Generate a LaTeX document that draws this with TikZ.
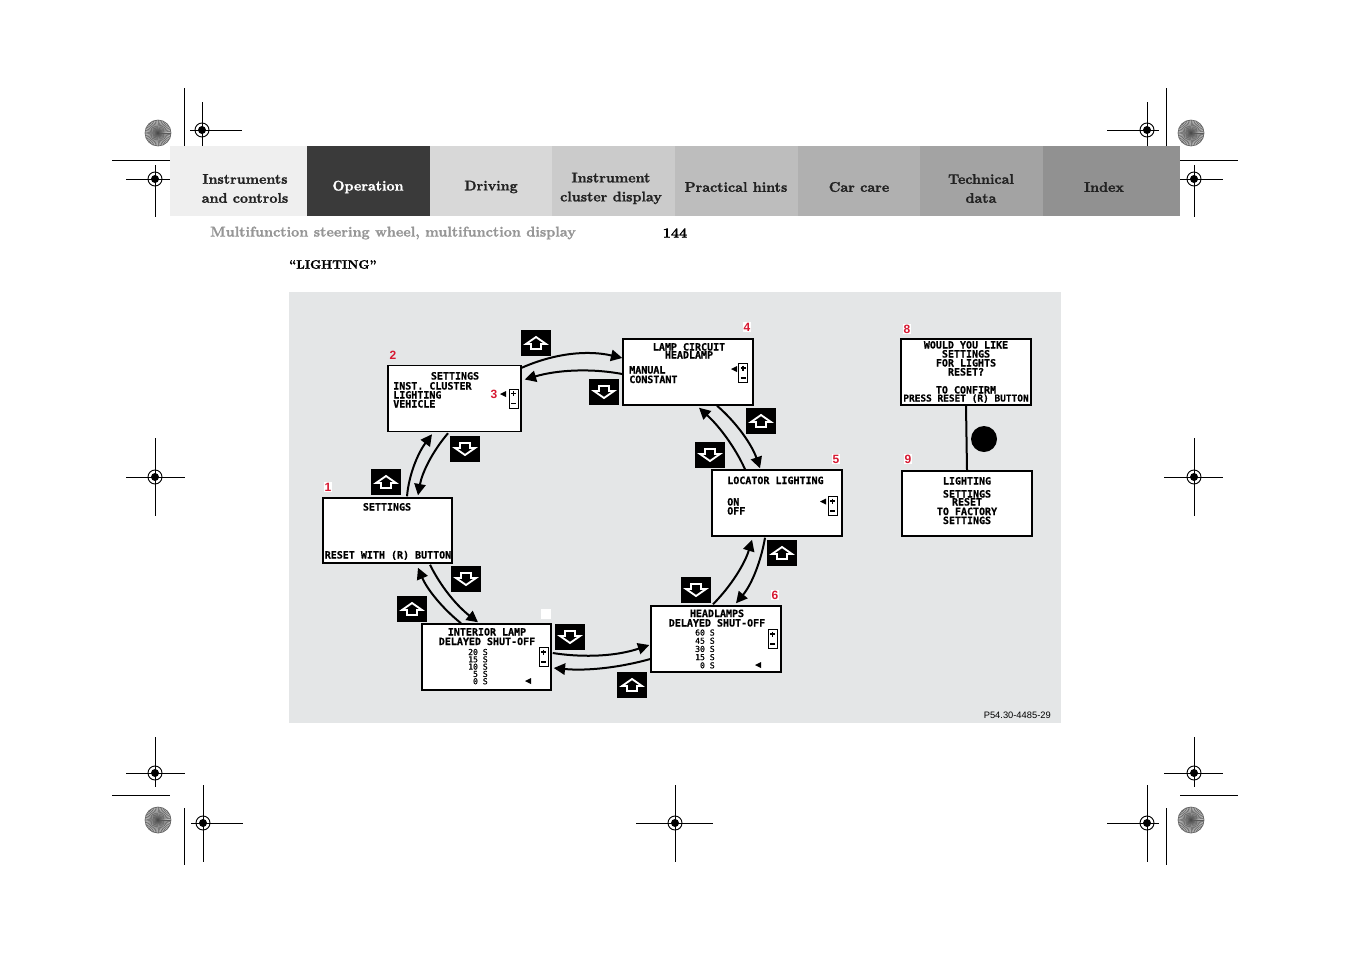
\documentclass[tikz,border=0pt]{standalone}
\usepackage{fontspec}
\usetikzlibrary{arrows.meta,calc}
\newfontfamily\lcdfont{DejaVu Sans Mono}[FakeBold=0.6]
\newfontfamily\numfont{Liberation Sans}
\newfontfamily\hdfont{lmroman10-bold.otf}[FakeBold=1.4]
\definecolor{panel}{RGB}{228,230,231}
\definecolor{numred}{RGB}{215,25,50}
\definecolor{tabA}{RGB}{239,239,239}
\definecolor{tabB}{RGB}{58,58,58}
\definecolor{tabC}{RGB}{216,216,216}
\definecolor{tabD}{RGB}{203,203,203}
\definecolor{tabE}{RGB}{189,189,189}
\definecolor{tabF}{RGB}{176,176,176}
\definecolor{tabG}{RGB}{163,163,163}
\definecolor{tabH}{RGB}{145,145,145}
\definecolor{tabtext}{RGB}{34,34,34}
\definecolor{subgray}{RGB}{150,150,150}
\newcommand\starburst[2]{%
  \fill[gray!55] (#1,#2) circle (13);
  \foreach \a in {0,8,...,352} \draw[black!65,line width=0.35pt] (#1,#2) -- ++(\a:13);
  \draw[black!60,line width=0.5pt] (#1,#2) circle (13);
  \fill[black!70] (#1,#2) circle (1.5);}
\newcommand\regmark[6]{%
  \draw[regline] (#1-#3,#2) -- (#1+#4,#2) (#1,#2-#5) -- (#1,#2+#6);
  \draw[line width=0.7pt] (#1,#2) circle (7);
  \fill (#1,#2) circle (4);}
\newcommand\pmbox[2]{%
  \draw[line width=0.6pt,fill=white] (#1-4.5,#2-9.5) rectangle (#1+4.5,#2+9.5);
  \draw[line width=0.9pt] (#1-2.5,#2-5) -- (#1+2.5,#2-5) (#1,#2-7.5) -- (#1,#2-2.5) (#1-2.5,#2+5) -- (#1+2.5,#2+5);}
\newcommand\ptr[2]{\fill (#1-3,#2) -- (#1+3,#2-3) -- (#1+3,#2+3) -- cycle;}
\begin{document}
\begin{tikzpicture}[x=0.75pt,y=-0.75pt,
  regline/.style={line width=0.75pt},
  screen/.style={draw=black,line width=1.1pt,fill=white,inner sep=0pt,minimum height=49.5pt},
  lcd/.style={font=\lcdfont\bfseries\fontsize{7.5}{7}\selectfont,inner sep=0pt},
  lcds/.style={font=\lcdfont\fontsize{6.1}{7}\selectfont,inner sep=0pt},
  num/.style={font=\numfont\bfseries\fontsize{9}{10}\selectfont,text=numred,inner sep=0.8pt},
  numw/.style={num,fill=white},
  iconbox/.style={fill=black,minimum width=22.5pt,minimum height=20pt,inner sep=0pt},
  flow/.style={line width=1.5pt,-{Triangle[length=8.5pt,width=8.5pt]}},
  tabtxt/.style={font=\hdfont\fontsize{10.5}{14.25}\selectfont,align=center,text=tabtext,inner sep=0pt},
  upar/.pic={\draw[white,line width=1.4pt,line join=miter] (0,-6) -- (-10,1) -- (-5,1) -- (-5,6) -- (5,6) -- (5,1) -- (10,1) -- cycle;},
  downar/.pic={\draw[white,line width=1.4pt,line join=miter] (0,6) -- (-10,-1) -- (-5,-1) -- (-5,-6) -- (5,-6) -- (5,-1) -- (10,-1) -- cycle;}
]
\useasboundingbox (0,0) rectangle (1351,954);
\fill[white] (0,0) rectangle (1351,954);

% ---- crop and registration marks
\starburst{158}{133}
\starburst{1191}{133}
\starburst{158}{820}
\starburst{1191}{820}
\regmark{202}{130}{12}{40}{28}{30}
\regmark{1147}{130}{40}{12}{28}{30}
\regmark{155}{179}{29}{30}{14}{38}
\regmark{1194}{179}{30}{29}{14}{38}
\regmark{155}{477}{29}{30}{39}{39}
\regmark{1194}{477}{30}{29}{39}{39}
\regmark{155}{773}{29}{30}{36}{14}
\regmark{1194}{773}{30}{29}{36}{14}
\regmark{203}{823}{12}{40}{38}{39}
\regmark{1147}{823}{40}{12}{38}{39}
\regmark{675}{823}{39}{38}{38}{39}
\draw[regline] (184,88) -- (184,146) (112,160) -- (170,160);
\draw[regline] (1166,88) -- (1166,146) (1180,160) -- (1238,160);
\draw[regline] (184,808) -- (184,865) (112,795) -- (170,795);
\draw[regline] (1166,808) -- (1166,865) (1180,795) -- (1238,795);

% ---- header tabs
\fill[tabA] (170,146) rectangle (307,216);
\fill[tabB] (307,146) rectangle (430,216);
\fill[tabC] (430,146) rectangle (552,216);
\fill[tabD] (552,146) rectangle (675,216);
\fill[tabE] (675,146) rectangle (798,216);
\fill[tabF] (798,146) rectangle (920,216);
\fill[tabG] (920,146) rectangle (1043,216);
\fill[tabH] (1043,146) rectangle (1180,216);
\node[tabtxt] (t1) at (245,188.5) {Instruments\\and controls};
\node[tabtxt,text=white] (t2) at (368,187) {Operation};
\node[tabtxt] (t3) at (491,187) {Driving};
\node[tabtxt] (t4) at (611,188.5) {Instrument\\cluster display};
\node[tabtxt] (t5) at (736,187) {Practical hints};
\node[tabtxt] (t6) at (859,187) {Car care};
\node[tabtxt] (t7) at (981,188.5) {Technical\\data};
\node[tabtxt] (t8) at (1104,187) {Index};

\node[font=\hdfont\fontsize{10.6}{12}\selectfont,text=subgray,anchor=west,inner sep=0pt] (sub) at (210,233) {Multifunction steering wheel, multifunction display};
\node[font=\hdfont\fontsize{10.6}{12}\selectfont,inner sep=0pt] (page) at (675,233) {144};
\node[font=\hdfont\fontsize{9.2}{12}\selectfont,anchor=west,inner sep=0pt] (ttl) at (289,264.5) {“LIGHTING”};

% ---- panel
\fill[panel] (289,292) rectangle (1061,723);
\node[font=\numfont\fontsize{7}{8}\selectfont,anchor=east,inner sep=0pt] (ref) at (1051,715) {P54.30-4485-29};

% ---- screens
\node[screen,minimum width=99.75pt] (s2) at (454.5,398.5) {};
\node[screen,minimum width=97.5pt] (s4) at (688,372) {};
\node[screen,minimum width=97.5pt] (s8) at (966,372) {};
\node[screen,minimum width=97.5pt,minimum height=48.75pt] (s9) at (967,503.5) {};
\node[screen,minimum width=96.75pt,minimum height=48.75pt] (s1) at (387.5,530.5) {};
\node[screen,minimum width=97.5pt] (s5) at (777,503) {};
\node[screen,minimum width=96.75pt] (s7) at (486.5,657) {};
\node[screen,minimum width=97.5pt] (s6) at (716,639) {};

% screen 2
\node[lcd,anchor=base] (s2a) at (455,379.5) {SETTINGS};
\foreach \t/\y [count=\i] in {INST. CLUSTER/389.5,LIGHTING/398.5,VEHICLE/407.5}
  \node[lcd,anchor=base west] (s2b\i) at (393,\y) {\t};
\ptr{503}{394}
\pmbox{513.5}{398.5}
% screen 4
\node[lcd,anchor=base] (s4a) at (689,350.5) {LAMP CIRCUIT};
\node[lcd,anchor=base] (s4b) at (689,358.5) {HEADLAMP};
\node[lcd,anchor=base west] (s4c) at (629,373.5) {MANUAL};
\node[lcd,anchor=base west] (s4d) at (629,383) {CONSTANT};
\ptr{734}{369}
\pmbox{743}{373}
% screen 8
\foreach \t/\y [count=\i] in {WOULD YOU LIKE/348.5,SETTINGS/357.5,FOR LIGHTS/366.5,RESET?/375.5,TO CONFIRM/393.5}
  \node[lcd,anchor=base] (s8l\i) at (966,\y) {\t};
\node[lcd,anchor=base] (s8l6) at (966,401.5) {\fontsize{7.1}{7}\selectfont PRESS RESET (R) BUTTON};
% screen 9
\foreach \t/\y [count=\i] in {LIGHTING/484.5,SETTINGS/497.5,RESET/505.5,TO FACTORY/515,SETTINGS/524}
  \node[lcd,anchor=base] (s9l\i) at (967,\y) {\t};
% screen 1
\node[lcd,anchor=base] (s1a) at (387,510.5) {SETTINGS};
\node[lcd,anchor=base] (s1b) at (388,558.5) {RESET WITH (R) BUTTON};
% screen 5
\node[lcd,anchor=base west] (s5a) at (727,484) {LOCATOR LIGHTING};
\node[lcd,anchor=base west] (s5b) at (727,505.5) {ON};
\node[lcd,anchor=base west] (s5c) at (727,514.5) {OFF};
\ptr{823}{501.5}
\pmbox{832.5}{506}
% screen 7
\node[lcd,anchor=base] (s7a) at (487,635.5) {INTERIOR LAMP};
\node[lcd,anchor=base] (s7b) at (487,645) {DELAYED SHUT-OFF};
\foreach \t/\y [count=\i] in {20 S/655,15 S/662.3,10 S/669.6,5 S/676.9,0 S/684.2}
  \node[lcds,anchor=base east] (s7n\i) at (488,\y) {\t};
\ptr{528}{681}
\pmbox{543.5}{657}
% screen 6
\node[lcd,anchor=base] (s6a) at (717,617) {HEADLAMPS};
\node[lcd,anchor=base] (s6b) at (717,626.5) {DELAYED SHUT-OFF};
\foreach \t/\y [count=\i] in {60 S/635.5,45 S/643.7,30 S/651.9,15 S/660.1,0 S/668.3}
  \node[lcds,anchor=base east] (s6n\i) at (715,\y) {\t};
\ptr{758}{665}
\pmbox{772.5}{639}

% ---- labels
\node[num] (n2) at (393,355) {2};
\node[num] (n3) at (494,394) {3};
\node[numw] (n4) at (747,327) {4};
\node[numw] (n8) at (907,329) {8};
\node[numw] (n9) at (908,459) {9};
\node[numw] (n1) at (328,487) {1};
\node[numw] (n5) at (836,459) {5};
\node[numw] (n6) at (775,595) {6};
\node[fill=white,minimum size=8pt,inner sep=0pt] (n7) at (546,614) {};

% ---- 8 -> 9 link
\draw[line width=1.5pt] (s8.south) -- (s9.north);
\fill (984,439) circle (13);

% ---- button icons
\node[iconbox] (u1) at (536,343) {};  \pic at (u1) {upar};
\node[iconbox] (d1) at (604,392) {};  \pic at (d1) {downar};
\node[iconbox] (u2) at (761,421) {};  \pic at (u2) {upar};
\node[iconbox] (d2) at (710,455) {};  \pic at (d2) {downar};
\node[iconbox] (d3) at (465,449) {};  \pic at (d3) {downar};
\node[iconbox] (u3) at (386,482) {};  \pic at (u3) {upar};
\node[iconbox] (d4) at (466,579) {};  \pic at (d4) {downar};
\node[iconbox] (u4) at (412,609) {};  \pic at (u4) {upar};
\node[iconbox] (d5) at (570,637) {};  \pic at (d5) {downar};
\node[iconbox] (u5) at (632,685) {};  \pic at (u5) {upar};
\node[iconbox] (u6) at (782,553) {};  \pic at (u6) {upar};
\node[iconbox] (d6) at (696,590) {};  \pic at (d6) {downar};

% ---- flow arrows
\draw[flow] ($(s2.north east)+(0,3)$) .. controls (555,353) and (588,350) .. ($(s4.west)+(0,-14)$);
\draw[flow] ($(s4.west)+(0,2)$) .. controls (590,368) and (557,370) .. ($(s2.east)+(3,-19)$);
\draw[flow] ($(s4.south)+(29,0)$) .. controls (737,423) and (752,445) .. ($(s5.north)+(-17,-1)$);
\draw[flow] ($(s5.north)+(-32,0)$) .. controls (735,447) and (719,426) .. ($(s4.south)+(11,2)$);
\draw[flow] ($(s5.south)+(-12,1)$) .. controls (761,561) and (752,584) .. ($(s6.north)+(20,-2)$);
\draw[flow] ($(s6.north)+(-3,-1)$) .. controls (732,585) and (745,563) .. ($(s5.south)+(-25,3)$);
\draw[flow] ($(s7.east)+(1,-4)$) .. controls (585,658) and (617,656) .. ($(s6.west)+(-1,6)$);
\draw[flow] ($(s6.west)+(0,20)$) .. controls (618,668) and (586,671) .. ($(s7.east)+(2,11)$);
\draw[flow] ($(s1.south)+(42.5,1)$) .. controls (441,587) and (457,606) .. ($(s7.north)+(-8.5,-1)$);
\draw[flow] ($(s7.north)+(-25.5,0)$) .. controls (442,608) and (427,589) .. ($(s1.south)+(30.5,4)$);
\draw[flow] ($(s1.north)+(19.5,-1)$) .. controls (409,474) and (418,453) .. ($(s2.south)+(-22.5,2)$);
\draw[flow] ($(s2.south)+(-6.5,1)$) .. controls (432,452) and (422,473) .. ($(s1.north)+(30.5,-2)$);
\end{tikzpicture}
\end{document}
